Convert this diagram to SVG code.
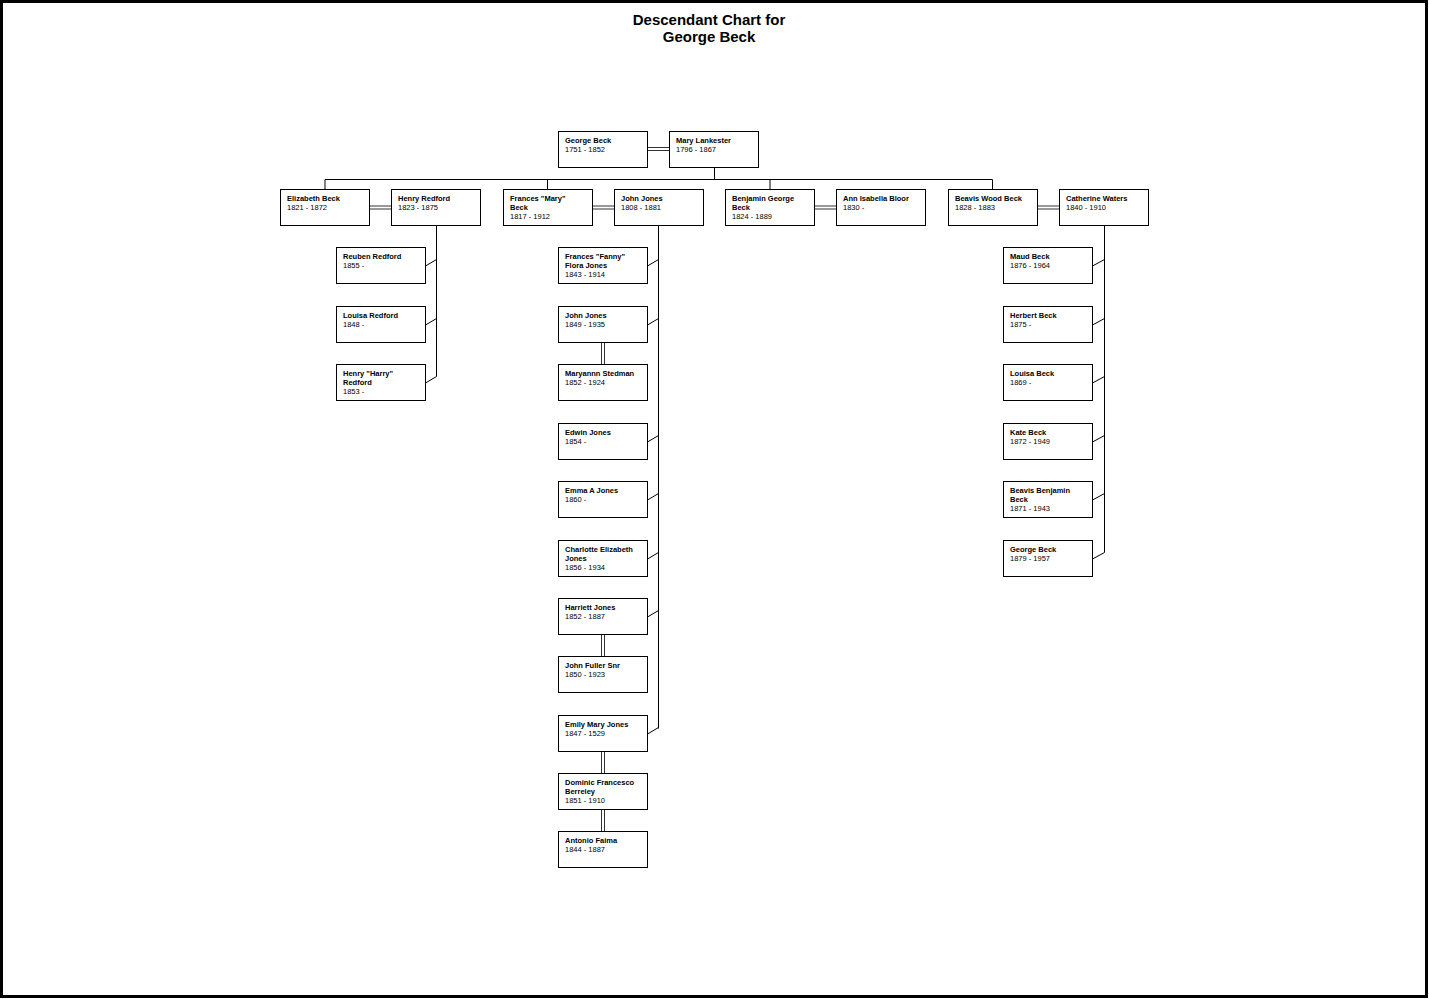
<svg xmlns="http://www.w3.org/2000/svg" width="1429" height="999" viewBox="0 0 1429 999">
<style>
.box{fill:#fff;stroke:#000;stroke-width:1}
.n{font-family:"Liberation Sans",Arial,sans-serif;font-size:7.5px;font-weight:bold;fill:#000}
.d{font-family:"Liberation Sans",Arial,sans-serif;font-size:7.5px;fill:#000}
.t{font-family:"Liberation Sans",Arial,sans-serif;font-size:15px;font-weight:bold;fill:#000;text-anchor:middle}
.ln{fill:none;stroke:#000;stroke-width:1}
.dbl{fill:none;stroke:#333;stroke-width:1}
</style>
<rect x="0" y="0" width="1429" height="999" fill="#fff"/>
<rect x="1.5" y="1.5" width="1425" height="995" fill="none" stroke="#000" stroke-width="3"/>
<g id="title">
<text class="t" x="709" y="25">Descendant Chart for</text>
<text class="t" x="709" y="42">George Beck</text>
</g>
<g id="connectors">
<path class="dbl" d="M647.5 147.5H669.5M647.5 150.5H669.5"/>
<path class="ln" d="M714.5 167.5V179.5M325 179.5H992.5M325 179.5V189.5M547.5 179.5V189.5M770 179.5V189.5M992.5 179.5V189.5"/>
<path class="dbl" d="M369.5 206H391.5M369.5 209H391.5"/>
<path class="dbl" d="M592.5 206H614.5M592.5 209H614.5"/>
<path class="dbl" d="M814.5 206H836.5M814.5 209H836.5"/>
<path class="dbl" d="M1037.5 206H1059.5M1037.5 209H1059.5"/>
<path class="ln" d="M436.5 225.5V376.5M425.5 266L436.5 259.5M425.5 325L436.5 318.5M425.5 383L436.5 376.5"/>
<path class="ln" d="M658.5 225.5V728.5M647.5 266L658.5 259.5M647.5 325L658.5 318.5M647.5 442L658.5 435.5M647.5 500L658.5 493.5M647.5 559L658.5 552.5M647.5 617L658.5 610.5M647.5 734L658.5 727.5"/>
<path class="dbl" d="M601.5 342.5V364.5M604.5 342.5V364.5"/>
<path class="dbl" d="M601.5 634.5V656.5M604.5 634.5V656.5"/>
<path class="dbl" d="M601.5 751.5V773.5M604.5 751.5V773.5"/>
<path class="dbl" d="M601.5 809.5V831.5M604.5 809.5V831.5"/>
<path class="ln" d="M1104.5 225.5V552.5M1092.5 266L1104.5 259.5M1092.5 325L1104.5 318.5M1092.5 383L1104.5 376.5M1092.5 442L1104.5 435.5M1092.5 500L1104.5 493.5M1092.5 559L1104.5 552.5"/>
</g>
<g id="george-beck"><rect class="box" x="558.5" y="131.5" width="89" height="36"/><text class="n" x="565" y="143">George Beck</text><text class="d" x="565" y="152">1751 - 1852</text></g>
<g id="mary-lankester"><rect class="box" x="669.5" y="131.5" width="89" height="36"/><text class="n" x="676" y="143">Mary Lankester</text><text class="d" x="676" y="152">1796 - 1867</text></g>

<g id="elizabeth-beck"><rect class="box" x="280.5" y="189.5" width="89" height="36"/><text class="n" x="287" y="201">Elizabeth Beck</text><text class="d" x="287" y="210">1821 - 1872</text></g>
<g id="henry-redford"><rect class="box" x="391.5" y="189.5" width="89" height="36"/><text class="n" x="398" y="201">Henry Redford</text><text class="d" x="398" y="210">1823 - 1875</text></g>
<g id="frances-mary-beck"><rect class="box" x="503.5" y="189.5" width="89" height="36"/><text class="n" x="510" y="201">Frances "Mary"</text><text class="n" x="510" y="210">Beck</text><text class="d" x="510" y="219">1817 - 1912</text></g>
<g id="john-jones-sr"><rect class="box" x="614.5" y="189.5" width="89" height="36"/><text class="n" x="621" y="201">John Jones</text><text class="d" x="621" y="210">1808 - 1881</text></g>
<g id="benjamin-george-beck"><rect class="box" x="725.5" y="189.5" width="89" height="36"/><text class="n" x="732" y="201">Benjamin George</text><text class="n" x="732" y="210">Beck</text><text class="d" x="732" y="219">1824 - 1889</text></g>
<g id="ann-isabella-bloor"><rect class="box" x="836.5" y="189.5" width="89" height="36"/><text class="n" x="843" y="201">Ann Isabella Bloor</text><text class="d" x="843" y="210">1830 -</text></g>
<g id="beavis-wood-beck"><rect class="box" x="948.5" y="189.5" width="89" height="36"/><text class="n" x="955" y="201">Beavis Wood Beck</text><text class="d" x="955" y="210">1828 - 1883</text></g>
<g id="catherine-waters"><rect class="box" x="1059.5" y="189.5" width="89" height="36"/><text class="n" x="1066" y="201">Catherine Waters</text><text class="d" x="1066" y="210">1840 - 1910</text></g>

<g id="reuben-redford"><rect class="box" x="336.5" y="247.5" width="89" height="36"/><text class="n" x="343" y="259">Reuben Redford</text><text class="d" x="343" y="268">1855 -</text></g>
<g id="louisa-redford"><rect class="box" x="336.5" y="306.5" width="89" height="36"/><text class="n" x="343" y="318">Louisa Redford</text><text class="d" x="343" y="327">1848 -</text></g>
<g id="henry-harry-redford"><rect class="box" x="336.5" y="364.5" width="89" height="36"/><text class="n" x="343" y="376">Henry "Harry"</text><text class="n" x="343" y="385">Redford</text><text class="d" x="343" y="394">1853 -</text></g>

<g id="frances-fanny-flora-jones"><rect class="box" x="558.5" y="247.5" width="89" height="36"/><text class="n" x="565" y="259">Frances "Fanny"</text><text class="n" x="565" y="268">Flora Jones</text><text class="d" x="565" y="277">1843 - 1914</text></g>
<g id="john-jones"><rect class="box" x="558.5" y="306.5" width="89" height="36"/><text class="n" x="565" y="318">John Jones</text><text class="d" x="565" y="327">1849 - 1935</text></g>
<g id="maryannn-stedman"><rect class="box" x="558.5" y="364.5" width="89" height="36"/><text class="n" x="565" y="376">Maryannn Stedman</text><text class="d" x="565" y="385">1852 - 1924</text></g>
<g id="edwin-jones"><rect class="box" x="558.5" y="423.5" width="89" height="36"/><text class="n" x="565" y="435">Edwin Jones</text><text class="d" x="565" y="444">1854 -</text></g>
<g id="emma-a-jones"><rect class="box" x="558.5" y="481.5" width="89" height="36"/><text class="n" x="565" y="493">Emma A Jones</text><text class="d" x="565" y="502">1860 -</text></g>
<g id="charlotte-elizabeth-jones"><rect class="box" x="558.5" y="540.5" width="89" height="36"/><text class="n" x="565" y="552">Charlotte Elizabeth</text><text class="n" x="565" y="561">Jones</text><text class="d" x="565" y="570">1856 - 1934</text></g>
<g id="harriett-jones"><rect class="box" x="558.5" y="598.5" width="89" height="36"/><text class="n" x="565" y="610">Harriett Jones</text><text class="d" x="565" y="619">1852 - 1887</text></g>
<g id="john-fuller-snr"><rect class="box" x="558.5" y="656.5" width="89" height="36"/><text class="n" x="565" y="668">John Fuller Snr</text><text class="d" x="565" y="677">1850 - 1923</text></g>
<g id="emily-mary-jones"><rect class="box" x="558.5" y="715.5" width="89" height="36"/><text class="n" x="565" y="727">Emily Mary Jones</text><text class="d" x="565" y="736">1847 - 1529</text></g>
<g id="dominic-francesco-berreley"><rect class="box" x="558.5" y="773.5" width="89" height="36"/><text class="n" x="565" y="785">Dominic Francesco</text><text class="n" x="565" y="794">Berreley</text><text class="d" x="565" y="803">1851 - 1910</text></g>
<g id="antonio-faima"><rect class="box" x="558.5" y="831.5" width="89" height="36"/><text class="n" x="565" y="843">Antonio Faima</text><text class="d" x="565" y="852">1844 - 1887</text></g>

<g id="maud-beck"><rect class="box" x="1003.5" y="247.5" width="89" height="36"/><text class="n" x="1010" y="259">Maud Beck</text><text class="d" x="1010" y="268">1876 - 1964</text></g>
<g id="herbert-beck"><rect class="box" x="1003.5" y="306.5" width="89" height="36"/><text class="n" x="1010" y="318">Herbert Beck</text><text class="d" x="1010" y="327">1875 -</text></g>
<g id="louisa-beck"><rect class="box" x="1003.5" y="364.5" width="89" height="36"/><text class="n" x="1010" y="376">Louisa Beck</text><text class="d" x="1010" y="385">1869 -</text></g>
<g id="kate-beck"><rect class="box" x="1003.5" y="423.5" width="89" height="36"/><text class="n" x="1010" y="435">Kate Beck</text><text class="d" x="1010" y="444">1872 - 1949</text></g>
<g id="beavis-benjamin-beck"><rect class="box" x="1003.5" y="481.5" width="89" height="36"/><text class="n" x="1010" y="493">Beavis Benjamin</text><text class="n" x="1010" y="502">Beck</text><text class="d" x="1010" y="511">1871 - 1943</text></g>
<g id="george-beck-jr"><rect class="box" x="1003.5" y="540.5" width="89" height="36"/><text class="n" x="1010" y="552">George Beck</text><text class="d" x="1010" y="561">1879 - 1957</text></g>
</svg>
